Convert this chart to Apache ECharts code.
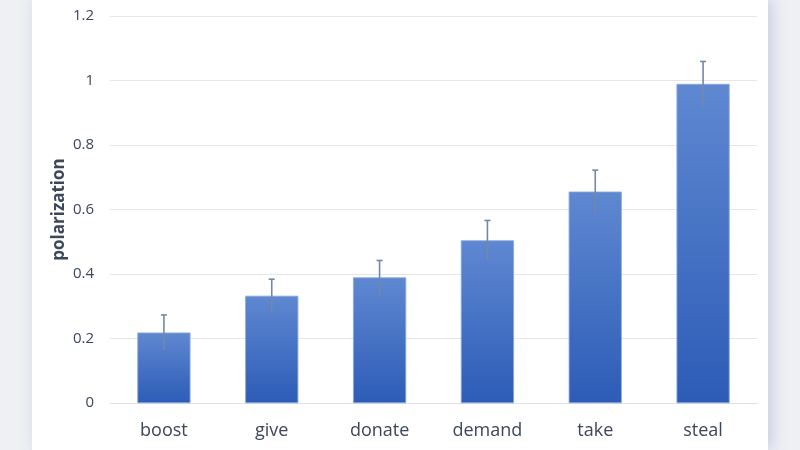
<!DOCTYPE html>
<html lang="en">

<head>
    <meta charset="UTF-8">
    <title>polarization</title>
    <style>
        html,
        body {
            margin: 0;
            height: 100%;
            width: 100%;
            background: #eef0f3;
            overflow: hidden;
        }

        #panel {
            position: absolute;
            left: 32px;
            top: 0;
            width: 736px;
            height: 450px;
            background: #fff;
            box-shadow: 4px 0 14px rgba(120, 140, 200, 0.35);
        }

        #main {
            position: absolute;
            left: 0;
            top: 0;
            width: 800px;
            height: 450px;
        }
    </style>
</head>

<body>
    <div id="panel"></div>
    <div id="main"></div>
    <script src="https://cdn.jsdelivr.net/npm/echarts@6/dist/echarts.min.js"></script>
    <script type="text/javascript">
        var verbs = ['boost', 'give', 'donate', 'demand', 'take', 'steal'];
        var polarization = [0.218, 0.332, 0.389, 0.504, 0.655, 0.989];
        var errors = [0.055, 0.052, 0.053, 0.062, 0.067, 0.070];

        var errData = [];
        for (var i = 0; i < verbs.length; i++) {
            errData.push([i, polarization[i] - errors[i], polarization[i] + errors[i]]);
        }

        var myChart = echarts.init(document.getElementById('main'));
        var option = {
            grid: { left: 110, right: 43, top: 16, bottom: 47 },
            xAxis: {
                type: 'category',
                data: verbs,
                axisLine: { lineStyle: { color: '#dde1e7' } },
                axisTick: { show: false },
                axisLabel: { color: '#3c475a', fontSize: 18, fontFamily: 'Open Sans', margin: 19 }
            },
            yAxis: {
                type: 'value',
                min: 0,
                max: 1.2,
                interval: 0.2,
                name: 'polarization',
                nameLocation: 'middle',
                nameGap: 42,
                nameMoveOverlap: false,
                nameTextStyle: { color: '#3c475a', fontSize: 17, fontWeight: 'bold', fontFamily: 'Open Sans' },
                axisLabel: { color: '#3c475a', fontSize: 15, fontFamily: 'Open Sans', margin: 16 },
                splitLine: { lineStyle: { color: '#e3e6ea', width: 1 } }
            },
            series: [{
                type: 'bar',
                data: polarization,
                barWidth: '49%',
                itemStyle: {
                    color: new echarts.graphic.LinearGradient(0, 0, 0, 1, [
                        { offset: 0, color: '#5f88d1' },
                        { offset: 1, color: '#2d5cb7' }
                    ]),
                    borderColor: '#8aa6dc',
                    borderWidth: 0.5
                }
            }, {
                type: 'custom',
                data: errData,
                z: 10,
                renderItem: function (params, api) {
                    var x = api.value(0);
                    var lo = api.coord([x, api.value(1)]);
                    var hi = api.coord([x, api.value(2)]);
                    var cap = 3;
                    var style = { stroke: '#7488a6', lineWidth: 1.6 };
                    return {
                        type: 'group',
                        children: [{
                            type: 'line',
                            shape: { x1: hi[0], y1: hi[1], x2: lo[0], y2: lo[1] },
                            style: style
                        }, {
                            type: 'line',
                            shape: { x1: hi[0] - cap, y1: hi[1], x2: hi[0] + cap, y2: hi[1] },
                            style: style
                        }]
                    };
                }
            }]
        };
        myChart.setOption(option);
    </script>
</body>

</html>
